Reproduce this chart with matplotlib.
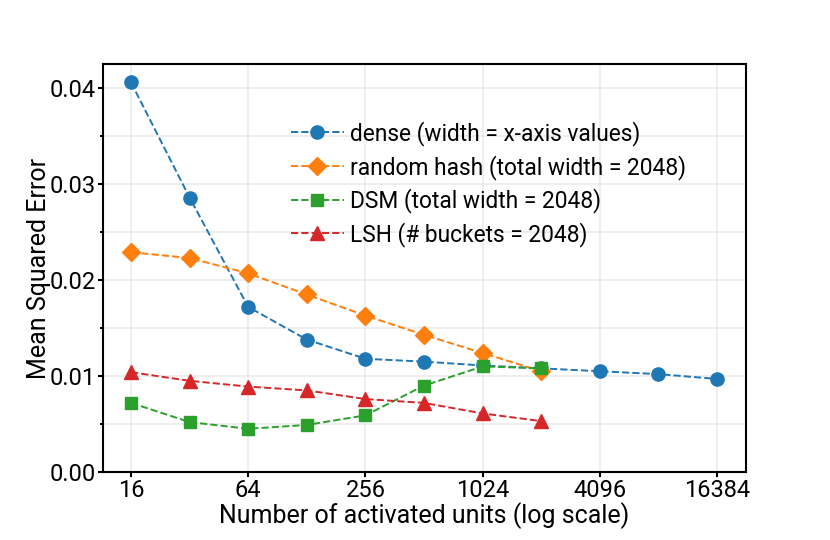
import matplotlib
matplotlib.use("Agg")
import matplotlib.pyplot as plt
from matplotlib.ticker import FixedLocator, MultipleLocator, NullLocator

plt.rcParams['font.family'] = ['Roboto', 'DejaVu Sans']

units = [16, 32, 64, 128, 256, 512, 1024, 2048, 4096, 8192, 16384]
hash_units = units[:8]

dense_mse = [0.0406, 0.0286, 0.0172, 0.0138, 0.0118, 0.0115, 0.0111, 0.0108, 0.0105, 0.0102, 0.0097]
hash_mse = [0.0229, 0.0223, 0.0207, 0.0185, 0.0163, 0.0143, 0.0124, 0.0105]
dsm_mse = [0.0072, 0.0052, 0.0045, 0.0049, 0.0059, 0.0090, 0.0110, 0.0108]
lsh_mse = [0.0104, 0.0095, 0.0089, 0.0085, 0.0076, 0.0072, 0.0061, 0.0053]

xticks = [16, 64, 256, 1024, 4096, 16384]

fig = plt.figure(figsize=(8.3, 5.4), dpi=100)
ax = fig.add_axes([0.124, 0.126, 0.775, 0.755])

ax.plot(units, dense_mse, '--o', color='#1f77b4', ms=9.5, lw=1.4, label='dense (width = x-axis values)')
ax.plot(hash_units, hash_mse, '--D', color='#ff7f0e', ms=9, lw=1.4, label='random hash (total width = 2048)')
ax.plot(hash_units, dsm_mse, '--s', color='#2ca02c', ms=9, lw=1.4, label='DSM (total width = 2048)')
ax.plot(hash_units, lsh_mse, '--^', color='#d62728', ms=9.5, lw=1.4, label='LSH (# buckets = 2048)')

ax.set_xscale('log', base=2)
ax.xaxis.set_major_locator(FixedLocator(xticks))
ax.xaxis.set_minor_locator(NullLocator())
ax.set_xticklabels([str(t) for t in xticks])
ax.set_xlim(16 / 2 ** 0.48, 16384 * 2 ** 0.5)

ax.set_ylim(0, 0.0425)
ax.yaxis.set_major_locator(MultipleLocator(0.01))
ax.yaxis.set_minor_locator(MultipleLocator(0.005))
ax.yaxis.set_major_formatter(matplotlib.ticker.FormatStrFormatter('%.2f'))

ax.grid(True, which='both', color='#ebebeb', lw=1.2)
ax.set_axisbelow(True)
for s in ax.spines.values():
    s.set_linewidth(1.5)
    s.set_color('black')
ax.tick_params(axis='both', which='major', labelsize=17, length=3.5, width=1.5, pad=1.5)
ax.tick_params(axis='y', which='minor', length=2.5, width=1.5)

ax.set_xlabel('Number of activated units (log scale)', fontsize=18, labelpad=0)
ax.set_ylabel('Mean Squared Error', fontsize=18, labelpad=-1)

ax.legend(loc='upper left', bbox_to_anchor=(0.268, 0.9), frameon=False, fontsize=16.4,
          handlelength=2.3, labelspacing=0.38, handletextpad=0.3, borderaxespad=0.3)

fig.savefig('out.png', dpi=100)
